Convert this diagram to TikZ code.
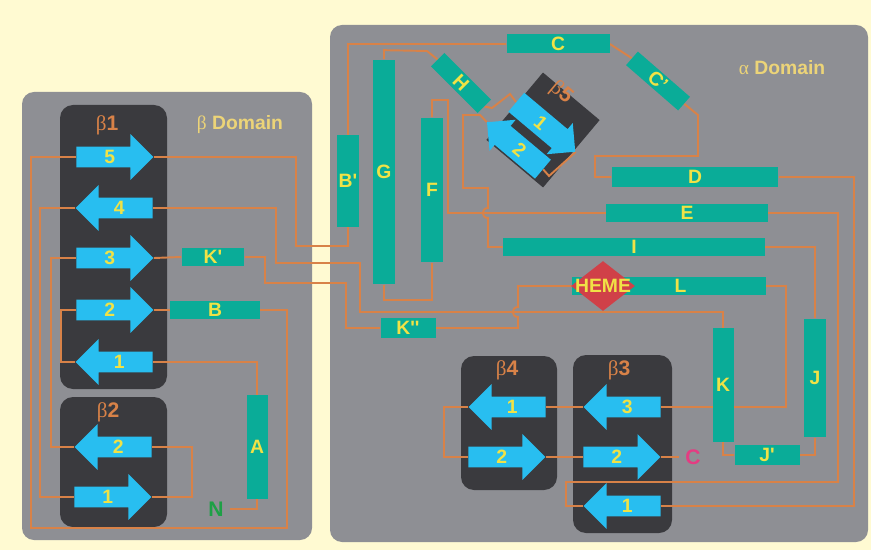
\documentclass[tikz,border=0pt]{standalone}
\usepackage{fontspec}
\setmainfont{Liberation Sans}
\newfontfamily\grk{Liberation Serif}
\definecolor{bgyellow}{RGB}{255,250,210}
\definecolor{panelgray}{RGB}{142,143,148}
\definecolor{sheetdark}{RGB}{58,58,62}
\definecolor{strandblue}{RGB}{40,190,240}
\definecolor{helixteal}{RGB}{10,172,152}
\definecolor{labelyellow}{RGB}{240,226,70}
\definecolor{loopbrown}{RGB}{216,130,72}
\definecolor{domaintext}{RGB}{236,212,120}
\definecolor{hemered}{RGB}{208,64,72}
\definecolor{ntermgreen}{RGB}{30,160,70}
\definecolor{ctermpink}{RGB}{228,60,130}
\usetikzlibrary{shapes.arrows,shapes.geometric}
\pgfdeclarelayer{panels}
\pgfdeclarelayer{loops}
\pgfsetlayers{panels,loops,main}
\tikzset{
  helix/.style={rectangle, fill=helixteal, inner sep=0pt, text=labelyellow, font=\bfseries\fontsize{11}{13}\selectfont},
  strand/.style={single arrow, fill=strandblue, inner xsep=1pt, inner ysep=0pt, text=labelyellow,
    font=\bfseries\fontsize{11}{13}\selectfont, text height=0.339cm, text depth=0.061cm,
    single arrow head extend=0.25cm, minimum height=1.54cm},
  strandback/.style={strand, shape border rotate=180},
  strandwide/.style={text height=0.38cm, text depth=0.1cm, single arrow head extend=0.16cm},
  sheetbox/.style={fill=sheetdark, rounded corners=0.26cm},
  backbone/.style={draw=loopbrown, line width=1.1pt},
  sheetname/.style={text=loopbrown, font=\bfseries\fontsize{12}{14}\selectfont},
  domainname/.style={text=domaintext, font=\bfseries\fontsize{11}{13}\selectfont},
}

\begin{document}
\begin{tikzpicture}[x=0.02cm, y=-0.02cm]
  \begin{pgfonlayer}{panels}
  % Background and domains
  \fill[bgyellow] (0,0) rectangle (871,550);
  \fill[panelgray, rounded corners=0.24cm] (22,92) rectangle (312,540);
  \fill[panelgray, rounded corners=0.24cm] (330,25) rectangle (868,542);
  % Sheet boxes
  \fill[sheetbox] (60,105) rectangle (167,389);
  \fill[sheetbox] (60,397) rectangle (167,527);
  \fill[sheetbox] (461,356) rectangle (557,490);
  \fill[sheetbox] (573,355) rectangle (672,533);
  \node[fill=sheetdark, rotate=-40, minimum width=1.48cm, minimum height=1.76cm] (b5box) at (543,130) {};
  \end{pgfonlayer}

  % Domain and sheet names
  \node[domainname] (betadom) at (240,125) {{\grk\mdseries β} Domain};
  \node[domainname] (alphadom) at (782,68) {{\grk\mdseries α} Domain};
  \node[sheetname] (b1name) at (107,125) {{\grk\mdseries β}1};
  \node[sheetname] (b2name) at (108,412) {{\grk\mdseries β}2};
  \node[sheetname] (b4name) at (507,370) {{\grk\mdseries β}4};
  \node[sheetname] (b3name) at (619,370) {{\grk\mdseries β}3};

  % Sheet beta1
  \node[strand, anchor=tail] (b15) at (76,157) {5};
  \node[strandback, anchor=tail] (b14) at (153,208) {4};
  \node[strand, anchor=tail] (b13) at (76,258) {3};
  \node[strand, anchor=tail] (b12) at (76,310) {2};
  \node[strandback, anchor=tail] (b11) at (153,362) {1};
  % Sheet beta2
  \node[strandback, anchor=tail] (b22) at (152,447) {2};
  \node[strand, anchor=tail] (b21) at (74,497) {1};
  % Sheet beta4
  \node[strandback, anchor=tail] (b41) at (546,407) {1};
  \node[strand, anchor=tail] (b42) at (468,457) {2};
  % Sheet beta3
  \node[strandback, anchor=tail] (b33) at (661,407) {3};
  \node[strand, anchor=tail] (b32) at (583,457) {2};
  \node[strandback, anchor=tail] (b31) at (661,506) {1};
  % Sheet beta5
  \node[strand, strandwide, rotate=-40, anchor=tail] (b51) at (516,102) {1};
  \node[strandback, strandwide, rotate=-40, anchor=tail, minimum height=1.46cm] (b52) at (543.2,169.4) {2};
  \node[sheetname, rotate=-40, inner sep=0pt] (b5name) at (561,93) {{\grk\mdseries β}5};

  % Helices, beta domain
  \node[helix, minimum width=0.42cm, minimum height=2.08cm] (A) at (257,447) {A};
  \node[helix, minimum width=1.8cm, minimum height=0.38cm] (B) at (215,310) {B};
  \node[helix, minimum width=1.26cm, minimum height=0.38cm] (Kp) at (213,257) {K\textquotesingle};
  % Helices, alpha domain
  \node[helix, minimum width=0.44cm, minimum height=1.84cm] (Bp) at (348,181) {B\textquotesingle};
  \node[helix, minimum width=0.44cm, minimum height=4.5cm] (G) at (384,172) {G};
  \node[helix, minimum width=0.44cm, minimum height=2.9cm] (F) at (432,190) {F};
  \node[helix, minimum width=2.06cm, minimum height=0.38cm] (C) at (558,44) {C};
  \node[helix, rotate=-41, minimum width=1.38cm, minimum height=0.36cm] (Cp) at (658,81) {C’};
  \node[helix, rotate=-45, minimum width=1.32cm, minimum height=0.38cm] (H) at (461,83) {H};
  \node[helix, minimum width=3.34cm, minimum height=0.4cm] (D) at (695,177) {D};
  \node[helix, minimum width=3.24cm, minimum height=0.38cm] (E) at (687,213) {E};
  \node[helix, minimum width=5.24cm, minimum height=0.38cm] (I) at (634,247) {I};
  \node[helix, minimum width=3.88cm, minimum height=0.38cm, text width=3.2cm, align=right] (L) at (669,286) {L\hspace*{1.25cm}};
  \node[helix, minimum width=1.1cm, minimum height=0.4cm] (Kpp) at (408,328) {K\textquotesingle\textquotesingle};
  \node[helix, minimum width=0.42cm, minimum height=2.28cm] (K) at (723,385) {K};
  \node[helix, minimum width=0.44cm, minimum height=2.38cm] (J) at (815,378) {J};
  \node[helix, minimum width=1.3cm, minimum height=0.4cm] (Jp) at (767,455) {J\textquotesingle};

  % Heme and chain ends
  \node[diamond, fill=hemered, minimum width=1.28cm, minimum height=1.0cm, inner sep=0pt] (heme) at (603,286) {};
  \node[text=labelyellow, font=\bfseries\fontsize{11}{13}\selectfont] (hemelabel) at (heme) {HEME};
  \node[text=ntermgreen, font=\bfseries\fontsize{12}{14}\selectfont] (N) at (216,509) {N};
  \node[text=ctermpink, font=\bfseries\fontsize{12}{14}\selectfont] (Cterm) at (693,457) {C};

  \begin{pgfonlayer}{loops}
  % Chain N to C
  \draw[backbone] (N.east) -| (A.south);
  \draw[backbone] (A.north) |- (b11.tail);
  \draw[backbone] (b11.tip) -- ++(-14,0) |- (b12.tail);
  \draw[backbone] (b12.tip) -- (B.west);
  \draw[backbone] (B.east) -| (287,528) -| (31,157) -- (b15.tail);
  \draw[backbone] (b15.tip) -| (296,246) -| (Bp.south);
  \draw[backbone] (Bp.north) |- (C.west);
  \draw[backbone] (C.east) -- (Cp.west);
  \draw[backbone] (Cp.east) -- (698,115) |- (595,156) |- (D.west);
  \draw[backbone] (D.east) -| (854,400) |- (b31.tail);
  \draw[backbone] (b31.tip) -- ++(-17,0) |- (838,482) |- (E.east);
  \draw[backbone] (E.west) -| (448,100) -| (F.north);
  \draw[backbone] (F.south) -- ++(0,37) -| (G.south);
  \draw[backbone] (G.north) -- ++(0,-9) -- (427,51) -- (H.west);
  \draw[backbone] (H.east) -- (492,108) -- (510,94) -- (b51.tail);
  \draw[backbone] (b51.tip) -- (549,176) -- (b52.tail);
  \draw[backbone] (b52.tip) -- (480,115) -- (463,115) |- (488,188) -- (488,208)
    .. controls (481,208) and (481,218) .. (488,218) |- (I.west);
  \draw[backbone] (I.east) -| (J.north);
  \draw[backbone] (J.south) |- (Jp.east);
  \draw[backbone] (Jp.west) -| (K.south);
  \draw[backbone] (K.north) |- (360,312) |- (276,263) |- (b14.tail);
  \draw[backbone] (b14.tip) -- ++(-35,0) |- (b21.tail);
  \draw[backbone] (b21.tip) -| (192,470) |- (b22.tail);
  \draw[backbone] (b22.tip) -- ++(-23,0) |- (b13.tail);
  \draw[backbone] (b13.tip) -- (Kp.west);
  \draw[backbone] (Kp.east) -| (265,283) -| (346,328) -- (Kpp.west);
  \draw[backbone] (Kpp.east) -| (518,317)
    .. controls (511,317) and (511,307) .. (518,307) |- (L.west);
  \draw[backbone] (L.east) -| (786,350) |- (b33.tail);
  \draw[backbone] (b33.tip) -- (b41.tail);
  \draw[backbone] (b41.tip) -- ++(-24,0) |- (b42.tail);
  \draw[backbone] (b42.tip) -- (b32.tail);
  \draw[backbone] (b32.tip) -- (Cterm.west);
  \end{pgfonlayer}
\end{tikzpicture}
\end{document}
